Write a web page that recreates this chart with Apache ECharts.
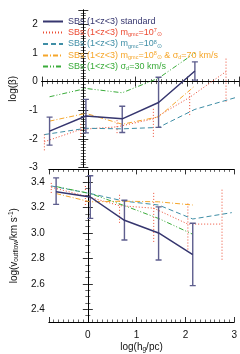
<!DOCTYPE html>
<html><head><meta charset="utf-8">
<script src="https://cdn.jsdelivr.net/npm/echarts@6/dist/echarts.min.js"></script>
<style>html,body{margin:0;padding:0;background:#fff}#c{width:240px;height:354px}</style>
</head><body><div id="c"></div>
<script>
// ---- data ----
const seriesNames = ['SBs (1<z<3) standard', 'SBs (1<z<3) mgmc=10^7', 'SBs (1<z<3) mgmc=10^8',
  'SBs (1<z<3) mgmc=10^8 & sigma_d=70 km/s', 'SBs (1<z<3) sigma_d=30 km/s'];
// standard
const xStd = [-0.65, 0.05, 0.75, 1.45, 2.15];
const betaStd = [-1.73, -1.2, -1.3, -0.73, 0.37];
const betaStdLo = [-2.22, -1.79, -1.78, -1.6, 0.05];
const betaStdHi = [-1.24, -0.62, -0.86, 0.15, 0.69];
const vStd = [3.325, 3.283, 3.10, 3.0, 2.83];
const vStdLo = [3.225, 3.115, 2.945, 2.787, 2.586];
const vStdHi = [3.433, 3.45, 3.257, 3.205, 3.077];
// mgmc = 10^7
const xM7 = [-0.75, -0.05, 0.65, 1.35, 2.05, 2.75];
const betaM7 = [-2.1, -1.67, -1.58, -1.3, -0.55, 0.35];
const betaM7Lo = [-2.4, -1.93, -1.8, -1.93, -1.17, -0.7];
const betaM7Hi = [-1.8, -1.46, -1.35, -0.93, -0.33, 0.87];
const vM7 = [3.36, 3.29, 3.215, 3.195, 3.07, 3.07];
const vM7Lo = [3.315, 3.22, 3.08, 2.93, 2.87, 2.79];
const vM7Hi = [3.40, 3.37, 3.31, 3.33, 3.245, 3.345];
// mgmc = 10^8
const xM8 = [-0.75, 0.05, 0.75, 1.45, 2.15, 2.95];
const betaM8 = [-1.85, -1.63, -1.65, -1.6, -0.97, -0.55];
const vM8 = [3.37, 3.31, 3.25, 3.22, 3.11, 3.16];
// mgmc = 10^8 & sigma_d = 70 km/s
const xS70 = [-0.65, 0.05, 0.75, 1.45, 2.15];
const betaS70 = [-1.38, -1.11, -1.49, -1.23, -0.15];
const vS70 = [3.31, 3.245, 3.25, 3.245, 3.22];
// sigma_d = 30 km/s
const xS30 = [-0.65, 0.05, 0.75, 1.45, 2.15];
const betaS30 = [-0.53, -0.24, -0.39, 0.12, 1.0];
const vS30 = [3.365, 3.31, 3.215, 3.114, 2.99];

const colors = ['#36366f', '#ec4a32', '#3f8ea6', '#f6a62a', '#3aac3a'];
const dashes = ['solid', [1, 2], [5, 3], [5, 2, 1, 2], [5, 2, 1, 2, 1, 2]];
const widths = [1.5, 1, 1, 1, 1];

const FONT = 'Liberation Sans, Arial, Helvetica, sans-serif';
const zip = (xs, ys) => xs.map((x, i) => [x, ys[i]]);
const zip3 = (xs, lo, hi) => xs.map((x, i) => [x, lo[i], hi[i]]);

const chart = echarts.init(document.getElementById('c'), null, {renderer: 'canvas'});

const grids = [
  {left: 37, right: 1, top: 10, height: 157.5},
  {left: 37, right: 1, top: 169.4, height: 159}
];
const XR = {min: -0.8, max: 3};
const intLabel = v => (Math.abs(v - Math.round(v)) < 1e-6 ? String(Math.round(v)) : '');
const tick = (n) => ({axisTick: {show: true, inside: true, length: 5, lineStyle: {color: '#000', width: 0.8}},
  minorTick: {show: true, splitNumber: n, length: 2.5, lineStyle: {color: '#000', width: 0.6}},
  axisLine: {show: true, lineStyle: {color: '#000', width: 1}}, splitLine: {show: false}});
const lblStyle = {color: '#111', fontSize: 10, fontFamily: FONT};
const rich = {
  t: {fontSize: 10, fontFamily: FONT, lineHeight: 12},
  sb: {fontSize: 6.5, fontFamily: FONT, lineHeight: 12, verticalAlign: 'bottom'},
  sp: {fontSize: 6.5, fontFamily: FONT, lineHeight: 12, verticalAlign: 'top'}
};

const xAxes = [];
const yAxes = [];
[0, 1].forEach(g => {
  xAxes.push(Object.assign({type: 'value', gridIndex: g, position: 'bottom', min: XR.min, max: XR.max, splitNumber: 4,
    axisLabel: {show: g === 1, formatter: intLabel, margin: 8, ...lblStyle},
    name: g === 1 ? '{t|log(h}{sb|g}{t|/pc)}' : '', nameLocation: 'middle', nameGap: 19,
    nameTextStyle: {color: '#111', fontSize: 10, fontFamily: FONT, rich}}, tick(10)));
  xAxes.push(Object.assign({type: 'value', gridIndex: g, position: 'top', min: XR.min, max: XR.max, splitNumber: 4,
    axisLabel: {show: false}}, tick(10)));
});
// top panel y
yAxes.push(Object.assign({type: 'value', gridIndex: 0, position: 'left', min: -3, max: 2.5, interval: 1,
  axisLabel: {formatter: intLabel, margin: 4, ...lblStyle},
  name: 'log(β)', nameLocation: 'middle', nameGap: 16, nameRotate: 90,
  nameTextStyle: {color: '#111', fontSize: 10, fontFamily: FONT}}, tick(10)));
yAxes.push(Object.assign({type: 'value', gridIndex: 0, position: 'right', min: -3, max: 2.5, interval: 1,
  axisLabel: {show: false}}, tick(10)));
// bottom panel y
const vLabel = v => (v > 2.35 && v < 3.45 && Math.abs(v * 5 - Math.round(v * 5)) < 1e-6 ? v.toFixed(1) : '');
yAxes.push(Object.assign({type: 'value', gridIndex: 1, position: 'left', min: 2.3, max: 3.5, splitNumber: 6,
  axisLabel: {formatter: vLabel, margin: 4, ...lblStyle},
  name: '{t|log(v}{sb|outflow}{t|/km s}{sp|-1}{t|)}', nameLocation: 'middle', nameGap: 22, nameRotate: 90,
  nameTextStyle: {color: '#111', fontSize: 10, fontFamily: FONT, rich}}, tick(4)));
yAxes.push(Object.assign({type: 'value', gridIndex: 1, position: 'right', min: 2.3, max: 3.5, splitNumber: 6,
  axisLabel: {show: false}}, tick(4)));

function lineSeries(i, g, xs, ys) {
  return {type: 'line', name: seriesNames[i], xAxisIndex: g * 2, yAxisIndex: g * 2,
    data: zip(xs, ys), symbol: 'none', showSymbol: false, z: i === 0 ? 5 : 3,
    lineStyle: {color: colors[i], width: widths[i], type: dashes[i]}, itemStyle: {color: colors[i]}};
}
function errSeries(g, xs, lo, hi, style, cap) {
  return {type: 'custom', xAxisIndex: g * 2, yAxisIndex: g * 2, data: zip3(xs, lo, hi),
    encode: {x: 0, y: [1, 2]}, clip: true, z: cap ? 4 : 2, silent: true,
    renderItem: (params, api) => {
      const x = api.value(0);
      const p1 = api.coord([x, api.value(1)]);
      const p2 = api.coord([x, api.value(2)]);
      const ch = [{type: 'line', shape: {x1: p1[0], y1: p1[1], x2: p2[0], y2: p2[1]}, style}];
      if (cap) {
        ch.push({type: 'line', shape: {x1: p1[0] - cap, y1: p1[1], x2: p1[0] + cap, y2: p1[1]}, style});
        ch.push({type: 'line', shape: {x1: p2[0] - cap, y1: p2[1], x2: p2[0] + cap, y2: p2[1]}, style});
      }
      return {type: 'group', children: ch};
    }};
}
const navyErr = {stroke: '#5e5e8e', lineWidth: 1.4};
const redErr = {stroke: '#ec4a32', lineWidth: 1, lineDash: [1, 2]};

const series = [
  errSeries(0, xM7, betaM7Lo, betaM7Hi, redErr, 0),
  errSeries(1, xM7, vM7Lo, vM7Hi, redErr, 0),
  errSeries(0, xStd, betaStdLo, betaStdHi, navyErr, 3),
  errSeries(1, xStd, vStdLo, vStdHi, navyErr, 3),
  lineSeries(1, 0, xM7, betaM7), lineSeries(1, 1, xM7, vM7),
  lineSeries(2, 0, xM8, betaM8), lineSeries(2, 1, xM8, vM8),
  lineSeries(3, 0, xS70, betaS70), lineSeries(3, 1, xS70, vS70),
  lineSeries(4, 0, xS30, betaS30), lineSeries(4, 1, xS30, vS30),
  lineSeries(0, 0, xStd, betaStd), lineSeries(0, 1, xStd, vStd)
];

const legendText = [
  '{t|SBs (1<z<3) standard}',
  '{t|SBs (1<z<3) m}{sb|gmc}{t|=10}{sp|7}{sb|⊙}',
  '{t|SBs (1<z<3) m}{sb|gmc}{t|=10}{sp|8}{sb|⊙}',
  '{t|SBs (1<z<3) m}{sb|gmc}{t|=10}{sp|8}{sb|⊙}{t| & σ}{sb|d}{t|=70 km/s}',
  '{t|SBs (1<z<3) σ}{sb|d}{t|=30 km/s}'
];
const legRich = {
  t: {fontSize: 9, fontFamily: FONT, lineHeight: 10},
  sb: {fontSize: 5.5, fontFamily: FONT, lineHeight: 10, verticalAlign: 'bottom'},
  sp: {fontSize: 5.5, fontFamily: FONT, lineHeight: 10, verticalAlign: 'top'}
};

chart.setOption({
  animation: false,
  backgroundColor: '#fff',
  grid: grids,
  xAxis: xAxes,
  yAxis: yAxes,
  legend: {
    orient: 'vertical', left: 42, top: 17, itemWidth: 20, itemHeight: 10, itemGap: 1.5,
    selectedMode: false, padding: 0,
    itemStyle: {opacity: 0, borderWidth: 0},
    lineStyle: {opacity: 1},
    data: seriesNames.map((n, i) => ({name: n, textStyle: {color: colors[i]}})),
    formatter: name => legendText[seriesNames.indexOf(name)],
    textStyle: {fontSize: 9, fontFamily: FONT, rich: legRich}
  },
  series
});
</script>
</body></html>
